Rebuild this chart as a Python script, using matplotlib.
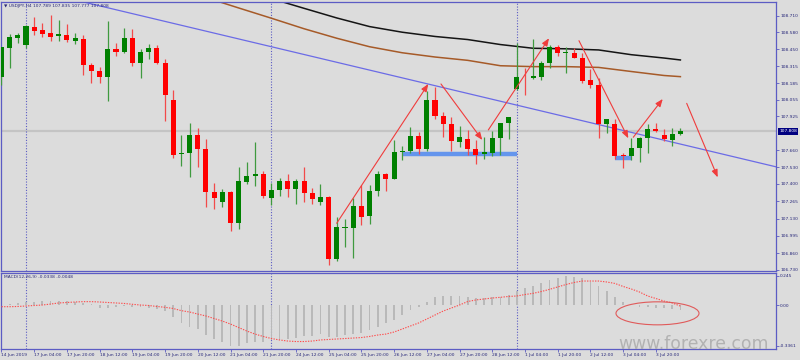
import matplotlib
matplotlib.use('Agg')
import matplotlib.pyplot as plt
from matplotlib.patches import Ellipse
from matplotlib.transforms import blended_transform_factory
import numpy as np

# ---------------- data (H4 candles, index 0 = 17 Jun 2019 00:00) ----------------
first_index = -3
opens = [108.235, 108.461, 108.538, 108.484, 108.624, 108.598, 108.573, 108.552, 108.562, 108.515,
         108.528, 108.326, 108.281, 108.235, 108.448, 108.425, 108.534, 108.344, 108.425, 108.458,
         108.344, 108.056, 107.635, 107.638, 107.781, 107.672, 107.339, 107.256, 107.339, 107.093,
         107.416, 107.459, 107.479, 107.288, 107.352, 107.422, 107.360, 107.420, 107.329, 107.259,
         107.300, 106.813, 107.056, 107.056, 107.228, 107.150, 107.344, 107.475, 107.436, 107.648,
         107.656, 107.775, 107.669, 108.053, 107.931, 107.866, 107.728, 107.749, 107.669, 107.630,
         107.643, 107.760, 107.872, 108.137, 108.235, 108.227, 108.235, 108.339, 108.468, 108.417,
         108.422, 108.383, 108.209, 108.168, 107.866, 107.870, 107.622, 107.620, 107.682, 107.755,
         107.827, 107.781, 107.742, 107.789]
highs = [108.468, 108.567, 108.577, 108.637, 108.702, 108.651, 108.715, 108.676, 108.643, 108.573,
         108.559, 108.344, 108.313, 108.668, 108.499, 108.612, 108.604, 108.448, 108.487, 108.482,
         108.373, 108.131, 107.781, 107.872, 107.833, 107.749, 107.404, 107.358, 107.345, 107.529,
         107.568, 107.726, 107.500, 107.407, 107.443, 107.475, 107.438, 107.531, 107.366, 107.399,
         107.308, 107.144, 107.126, 107.288, 107.391, 107.391, 107.503, 107.487, 107.742, 107.695,
         107.841, 107.802, 108.126, 108.157, 107.957, 107.918, 107.851, 107.820, 107.742, 107.763,
         107.812, 107.876, 107.923, 108.497, 108.300, 108.526, 108.359, 108.482, 108.482, 108.468,
         108.456, 108.417, 108.292, 108.222, 107.905, 107.908, 107.638, 107.755, 107.767, 107.866,
         107.872, 107.825, 107.833, 107.835]
lows = [108.170, 108.300, 108.495, 108.456, 108.559, 108.542, 108.515, 108.515, 108.507, 108.489,
        108.248, 108.183, 108.183, 108.048, 108.396, 108.423, 108.318, 108.227, 108.370, 108.331,
        107.892, 107.599, 107.542, 107.456, 107.529, 107.218, 107.207, 107.222, 107.035, 107.051,
        107.399, 107.383, 107.288, 107.235, 107.308, 107.300, 107.241, 107.259, 107.243, 107.235,
        106.768, 106.802, 106.911, 106.820, 107.080, 107.087, 107.308, 107.347, 107.436, 107.586,
        107.643, 107.633, 107.658, 107.905, 107.767, 107.658, 107.690, 107.625, 107.555, 107.591,
        107.617, 107.625, 107.749, 108.131, 108.092, 108.214, 108.209, 108.300, 108.396, 108.261,
        108.378, 108.188, 108.144, 107.755, 107.794, 107.591, 107.521, 107.586, 107.573, 107.638,
        107.806, 107.736, 107.695, 107.777]
closes = [108.468, 108.542, 108.559, 108.626, 108.593, 108.567, 108.546, 108.565, 108.520, 108.534,
          108.326, 108.281, 108.235, 108.448, 108.429, 108.538, 108.344, 108.425, 108.458, 108.344,
          108.090, 107.627, 107.640, 107.781, 107.672, 107.339, 107.292, 107.339, 107.093, 107.420,
          107.459, 107.479, 107.306, 107.352, 107.422, 107.360, 107.422, 107.329, 107.285, 107.298,
          106.813, 107.062, 107.062, 107.228, 107.144, 107.344, 107.475, 107.436, 107.648, 107.656,
          107.775, 107.669, 108.053, 107.931, 107.866, 107.734, 107.763, 107.669, 107.627, 107.646,
          107.755, 107.872, 107.918, 108.235, 108.230, 108.240, 108.344, 108.468, 108.417, 108.425,
          108.383, 108.204, 108.170, 107.866, 107.905, 107.617, 107.617, 107.682, 107.755, 107.825,
          107.814, 107.747, 107.786, 107.808]

macd_main = [0.012, 0.010, 0.017, 0.025, 0.032, 0.040, 0.040, 0.040, 0.040, 0.032,
             0.023, 0.010, -0.023, -0.023, -0.010, -0.004, -0.010, -0.015, -0.023, -0.032,
             -0.046, -0.098, -0.148, -0.176, -0.195, -0.245, -0.276, -0.300, -0.336, -0.334,
             -0.314, -0.300, -0.300, -0.286, -0.286, -0.276, -0.267, -0.253, -0.253, -0.237,
             -0.259, -0.259, -0.245, -0.237, -0.231, -0.203, -0.176, -0.148, -0.120, -0.079,
             -0.037, -0.010, 0.032, 0.068, 0.079, 0.079, 0.081, 0.068, 0.060, 0.060,
             0.068, 0.073, 0.087, 0.120, 0.143, 0.162, 0.184, 0.212, 0.226, 0.245,
             0.234, 0.226, 0.198, 0.162, 0.123, 0.073, 0.032, 0.004, -0.010, -0.015,
             -0.018, -0.023, -0.025, -0.0338]
macd_signal = [-0.010, -0.010, -0.008, -0.004, 0.000, 0.004, 0.012, 0.021, 0.025, 0.029,
               0.032, 0.032, 0.029, 0.025, 0.021, 0.017, 0.010, 0.004, 0.000, -0.008,
               -0.015, -0.025, -0.043, -0.054, -0.071, -0.087, -0.108, -0.129, -0.154, -0.183,
               -0.212, -0.237, -0.257, -0.274, -0.286, -0.295, -0.299, -0.299, -0.295, -0.286,
               -0.282, -0.278, -0.274, -0.270, -0.266, -0.257, -0.245, -0.237, -0.220, -0.195,
               -0.170, -0.145, -0.112, -0.079, -0.046, -0.021, 0.004, 0.033, 0.046, 0.054,
               0.062, 0.068, 0.075, 0.079, 0.091, 0.101, 0.116, 0.134, 0.154, 0.174,
               0.191, 0.203, 0.203, 0.203, 0.195, 0.183, 0.158, 0.137, 0.112, 0.079,
               0.058, 0.037, 0.021, -0.0048]

ma_black_idx = [30, 34, 38, 42, 46, 50, 54, 58, 62, 66, 70, 74, 78, 80]
ma_black_val = [108.843, 108.767, 108.692, 108.625, 108.581, 108.548, 108.524, 108.485,
                108.456, 108.452, 108.443, 108.406, 108.380, 108.365]
ma_brown_idx = [22, 26, 30, 34, 38, 42, 46, 50, 54, 58, 62, 66, 70, 74, 78, 80]
ma_brown_val = [108.851, 108.770, 108.690, 108.608, 108.534, 108.468, 108.421, 108.388,
                108.362, 108.320, 108.313, 108.313, 108.307, 108.275, 108.244, 108.235]

trend_idx = [6, 92]
trend_price = [108.832, 107.528]

support_start = [46.05, 72.0]
support_end = [60.0, 74.05]
support_price = [107.631, 107.603]

arrow_start_idx = [37.98, 50.73, 56.52, 67.60, 74.24, 80.77]
arrow_start_price = [107.093, 108.178, 107.820, 108.515, 107.763, 108.027]
arrow_end_idx = [49.18, 55.78, 63.94, 73.63, 77.84, 84.56]
arrow_end_price = [108.178, 107.742, 108.534, 107.755, 108.061, 107.451]

ellipse_center = (77.2, -0.065)
ellipse_size = (10.15, 0.191)

separator_idx = [0, 30, 60]
current_price = 107.808

price_ticks = [108.710, 108.580, 108.450, 108.315, 108.185, 108.055, 107.925, 107.660,
               107.530, 107.400, 107.265, 107.130, 106.995, 106.860, 106.730]
macd_ticks = [0.245, 0.0, -0.3361]
macd_tick_labels = ['0.245', '0.00', '-0.3361']

time_tick_idx = [-3, 1, 5, 9, 13, 17, 21, 25, 29, 33, 37, 41, 45, 49, 53, 57, 61, 65, 69, 73, 77]
time_tick_labels = ['14 Jun 2019', '17 Jun 04:00', '17 Jun 20:00', '18 Jun 12:00', '19 Jun 04:00',
                    '19 Jun 20:00', '20 Jun 12:00', '21 Jun 04:00', '21 Jun 20:00', '24 Jun 12:00',
                    '25 Jun 04:00', '25 Jun 20:00', '26 Jun 12:00', '27 Jun 04:00', '27 Jun 20:00',
                    '28 Jun 12:00', '1 Jul 04:00', '1 Jul 20:00', '2 Jul 12:00', '3 Jul 04:00',
                    '3 Jul 20:00']

# ---------------- styling ----------------
BG = '#dcdcdc'
FG = '#5c5cc4'
TXT = '#28287a'
GREEN = '#008000'
RED = '#ff0000'
FS = 3.2

W, H = 800.0, 360.0
def rect(x0, y0, x1, y1):
    return [x0 / W, 1 - y1 / H, (x1 - x0) / W, (y1 - y0) / H]

fig = plt.figure(figsize=(8, 3.6), dpi=100)
fig.patch.set_facecolor(BG)
ax = fig.add_axes(rect(1, 2, 776, 271))
axm = fig.add_axes(rect(1, 273, 776, 349))

for a in (ax, axm):
    a.set_facecolor(BG)
    for sp in a.spines.values():
        sp.set_color(FG)
        sp.set_linewidth(0.9)

idx = np.arange(first_index, first_index + len(opens))
o = np.array(opens); h = np.array(highs); l = np.array(lows); c = np.array(closes)
up = c >= o
body_col = np.where(up, GREEN, RED)
wick_col = np.where(up, '#3f9a3f', '#f24a4a')

ax.axhline(current_price, color='#c4c4c4', lw=1.6, zorder=1)
for a in (ax, axm):
    for s in separator_idx:
        a.axvline(s, color=FG, lw=0.8, ls=(0, (1, 1.5)), zorder=1.5)

ax.plot(ma_black_idx, ma_black_val, color='#141414', lw=1.1, zorder=2)
ax.plot(ma_brown_idx, ma_brown_val, color='#a65a28', lw=1.1, zorder=2)
ax.plot(trend_idx, trend_price, color='#6b6be6', lw=0.9, zorder=2.5)
for s0, s1, p in zip(support_start, support_end, support_price):
    ax.plot([s0, s1], [p, p], color='#6495ed', lw=3.2, solid_capstyle='butt', zorder=2.8)

ax.vlines(idx, l, h, colors=wick_col, lw=0.9, zorder=3)
ax.bar(idx, np.maximum(np.abs(c - o), 0.006), bottom=np.minimum(o, c), width=0.62,
       color=body_col, linewidth=0, zorder=4)

for xs, ys, xe, ye in zip(arrow_start_idx, arrow_start_price, arrow_end_idx, arrow_end_price):
    ax.annotate('', xy=(xe, ye), xytext=(xs, ys),
                arrowprops=dict(arrowstyle='-|>,head_length=0.45,head_width=0.18',
                                color='#f03c3c', lw=0.8, shrinkA=0, shrinkB=0), zorder=5)

# MACD panel
axm.bar(idx, macd_main, width=0.22, color='#b9b9b9', linewidth=0, zorder=2)
axm.plot(idx, macd_signal, color='#ff4b4b', lw=0.8, ls=(0, (1.2, 1.2)), zorder=3)
axm.add_patch(Ellipse(ellipse_center, ellipse_size[0], ellipse_size[1], fill=False,
                      edgecolor='#e05a5a', lw=0.8, zorder=4))

# limits
xl = ((1 - 26) / 8.18, (776 - 26) / 8.18)
ax.set_xlim(*xl)
axm.set_xlim(*xl)
ax.set_ylim(106.7214, 108.8164)
axm.set_ylim(-0.361, 0.2697)

# ticks
ax.yaxis.tick_right()
ax.set_yticks(price_ticks)
ax.set_yticklabels([f'{v:.3f}' for v in price_ticks])
ax.tick_params(axis='y', length=2, width=0.6, color=FG, labelsize=FS, labelcolor=TXT, pad=1)
ax.tick_params(axis='x', bottom=False, labelbottom=False)

axm.yaxis.tick_right()
axm.set_yticks(macd_ticks)
axm.set_yticklabels(macd_tick_labels)
axm.tick_params(axis='y', length=2, width=0.6, color=FG, labelsize=FS, labelcolor=TXT, pad=1)
axm.set_xticks(time_tick_idx)
axm.set_xticklabels(time_tick_labels)
axm.tick_params(axis='x', length=2, width=0.6, color=FG, labelsize=FS, labelcolor=TXT, pad=1)
for t in axm.get_xticklabels():
    t.set_ha('left')

# current price label
tr = blended_transform_factory(ax.transAxes, ax.transData)
ax.text(1.004, current_price, f'{current_price:.3f}', transform=tr, fontsize=FS, color='white',
        ha='left', va='center', zorder=10, clip_on=False,
        bbox=dict(boxstyle='square,pad=0.25', fc='#000080', ec='none'))

# titles
fig.text(4 / W, 1 - 5.5 / H,
         f'\u25BC USDJPY,H4 {opens[-1]:.3f} {highs[-1]:.3f} {lows[-1]:.3f} {closes[-1]:.3f}',
         fontsize=FS, color=TXT, ha='left', va='center')
fig.text(4 / W, 1 - 277.5 / H, f'MACD(12,26,9) {macd_main[-1]:.4f} {macd_signal[-1]:.4f}',
         fontsize=FS, color=TXT, ha='left', va='center')

# watermark
fig.text(694 / W, 1 - 349.0 / H, 'www.forexre.com', fontsize=12.4, color='#b2b2b2',
         ha='center', va='baseline', zorder=20)

fig.savefig('out.png', dpi=100, facecolor=BG)
